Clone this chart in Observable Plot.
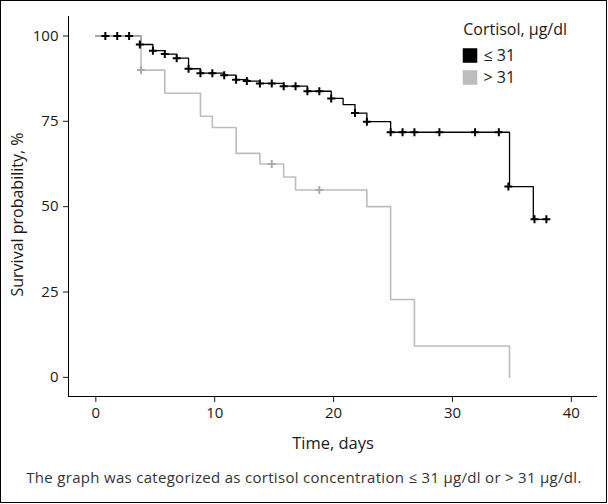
<!DOCTYPE html>
<html><head><meta charset="utf-8">
<script src="https://cdn.jsdelivr.net/npm/d3@7"></script>
<script src="https://cdn.jsdelivr.net/npm/@observablehq/plot@0.6"></script>
<style>
body{margin:0;background:#fff;}
#wrap{position:relative;width:608px;height:504px;overflow:hidden;font-family:"Open Sans",sans-serif;background:#fff;}
#border{position:absolute;left:0;top:0;width:607px;height:503px;box-sizing:border-box;border:1px solid #000;pointer-events:none;}
#chart{position:absolute;left:0;top:0;}
#caption{position:absolute;left:0;width:608px;top:467px;text-align:center;font-size:15px;letter-spacing:0.3px;color:#333;white-space:nowrap;}
</style></head><body>
<div id="wrap"><div id="chart"></div><div id="caption">The graph was categorized as cortisol concentration ≤ 31 µg/dl or &gt; 31 µg/dl.</div><div id="border"></div></div>
<script>
const groups = ["≤ 31", "> 31"];
const groupColors = ["#000000", "#bdbdbd"];
const legendTitle = "Cortisol, µg/dl";
const xTicks = [0, 10, 20, 30, 40];
const yTicks = [0, 25, 50, 75, 100];

// ≤ 31 group: Kaplan–Meier steps
const lowTime = [0, 3.8, 4.8, 5.8, 6.8, 7.8, 8.8, 10.8, 11.8, 12.8, 13.8, 15.8, 17.8, 19.8, 20.8, 21.8, 22.8, 24.8, 34.8, 36.8, 37.9];
const lowSurv = [100, 97.5, 95.7, 94.7, 93.5, 90.4, 89.1, 88.5, 87.2, 86.8, 86.1, 85.3, 83.8, 81.7, 79.9, 77.4, 74.9, 71.8, 55.9, 46.3, 46.3];
const lowCensTime = [0.8, 1.8, 2.8, 3.7, 4.8, 5.8, 6.8, 7.8, 8.8, 9.8, 10.8, 11.8, 12.7, 13.8, 14.8, 15.8, 16.8, 17.8, 18.8, 19.8, 21.8, 22.8, 24.8, 25.8, 26.8, 28.9, 31.9, 33.9, 34.7, 36.9, 37.9];
const lowCensSurv = [100, 100, 100, 97.5, 95.7, 94.7, 93.5, 90.4, 89.1, 89.1, 88.5, 87.2, 86.8, 86.1, 86.1, 85.3, 85.3, 83.8, 83.8, 81.7, 77.4, 74.9, 71.8, 71.8, 71.8, 71.8, 71.8, 71.8, 55.9, 46.3, 46.3];

// > 31 group
const highTime = [0, 3.8, 5.8, 8.8, 9.8, 11.8, 13.8, 15.8, 16.8, 22.8, 24.8, 26.8, 34.8];
const highSurv = [100, 90, 83.2, 76.5, 73.2, 65.6, 62.5, 58.7, 54.9, 50, 22.8, 9.2, 0];
const highCensTime = [3.8, 14.8, 18.8];
const highCensSurv = [90, 62.5, 54.9];

const low = lowTime.map((t, i) => ({t, s: lowSurv[i]}));
const high = highTime.map((t, i) => ({t, s: highSurv[i]}));
const lowCens = lowCensTime.map((t, i) => ({t, s: lowCensSurv[i]}));
const highCens = highCensTime.map((t, i) => ({t, s: highCensSurv[i]}));

const plus = {draw(ctx) { const r = 4; ctx.moveTo(-r, 0); ctx.lineTo(r, 0); ctx.moveTo(0, -r); ctx.lineTo(0, r); }};

const xDom = [-2.3, 42.2], yDom = [-5.6, 105.7];
const mL = 68, mT = 16;
const font = "'Open Sans', sans-serif";

const legendMarks = groups.flatMap((g, i) => [
  Plot.dot([g], {frameAnchor: "top-left", dx: 469.5 - mL, dy: 55 - mT + i * 22, symbol: "square", r: 8.2, fill: groupColors[i], stroke: "none"}),
  Plot.text([g], {frameAnchor: "top-left", dx: 483 - mL, dy: 55 - mT + i * 22, textAnchor: "start", lineAnchor: "middle", fontSize: 16, fill: "#1a1a1a"})
]);

const chart = Plot.plot({
  width: 608, height: 462,
  marginLeft: mL, marginRight: 11, marginTop: mT, marginBottom: 66,
  style: {fontFamily: font, fontSize: "15px", color: "#1a1a1a", background: "transparent"},
  x: {domain: xDom},
  y: {domain: yDom},
  marks: [
    Plot.axisX({ticks: xTicks, tickSize: 6, tickPadding: 5, label: null, fontSize: 15}),
    Plot.axisY({ticks: yTicks, tickSize: 5, tickPadding: 5, label: null, fontSize: 15}),
    Plot.ruleX([xDom[0]], {y1: yDom[0], y2: yDom[1], stroke: "#000"}),
    Plot.ruleY([yDom[0]], {x1: xDom[0], x2: xDom[1], stroke: "#000"}),
    Plot.line(low, {x: "t", y: "s", curve: "step-after", stroke: groupColors[0], strokeWidth: 1.3}),
    Plot.line(high, {x: "t", y: "s", curve: "step-after", stroke: groupColors[1], strokeWidth: 1.6}),
    Plot.dot(highCens, {x: "t", y: "s", symbol: plus, stroke: "#aaaaaa", fill: "none", strokeWidth: 2}),
    Plot.dot(lowCens, {x: "t", y: "s", symbol: plus, stroke: "#000", fill: "none", strokeWidth: 2}),
    Plot.text(["Time, days"], {frameAnchor: "bottom", dy: 47, lineAnchor: "middle", textAnchor: "middle", fontSize: 16.5, fill: "#1a1a1a"}),
    Plot.text(["Survival probability, %"], {frameAnchor: "left", rotate: -90, dx: -50.5, dy: 8, textAnchor: "middle", lineAnchor: "middle", fontSize: 16, fill: "#1a1a1a"}),
    Plot.text([legendTitle], {frameAnchor: "top-left", dx: 462.7 - mL, dy: 29 - mT, textAnchor: "start", lineAnchor: "middle", fontSize: 16, fill: "#1a1a1a"}),
    ...legendMarks
  ]
});
document.getElementById("chart").appendChild(chart);
</script>
</body></html>
